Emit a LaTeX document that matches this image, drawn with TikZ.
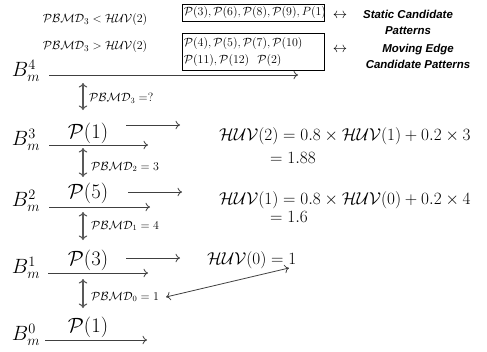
\documentclass[tikz,border=0pt]{standalone}
\usepackage{fontspec}
\usepackage{amsmath}
\usetikzlibrary{arrows.meta}
\newfontfamily\hvfont{Liberation Sans}
\newcommand{\pbmd}{\mathcal{PBMD}}
\newcommand{\huv}{\mathcal{HUV}}
\newcommand{\cp}[1]{\mathcal{P}(#1)}
\begin{document}
\begin{tikzpicture}[x=1bp,y=-1bp,
  >={Computer Modern Rightarrow[length=4.5bp, width=8.5bp]},
  every node/.style={inner sep=0pt},
  line/.style={draw=black!75, line width=0.8bp},
  harrow/.style={line, ->},
  varrow/.style={draw=black!65, line width=1.1bp, <->},
  blabel/.style={font=\fontsize{20}{24}\selectfont},
  plabel/.style={font=\fontsize{21}{25}\selectfont},
  eqtext/.style={font=\fontsize{16}{19}\selectfont, anchor=west},
  smalltext/.style={font=\fontsize{12}{14}\selectfont, anchor=west},
  toptext/.style={font=\fontsize{12.5}{15}\selectfont},
  boxtext/.style={draw=black, line width=0.7bp, font=\fontsize{12}{17}\selectfont,
    align=left, text width=139bp, inner xsep=1.5bp, inner ysep=1.5bp, anchor=north west},
  sidetext/.style={font=\hvfont\bfseries\itshape\fontsize{11.5}{16}\selectfont, align=center},
  dblarrow/.style={font=\fontsize{15}{18}\selectfont}
]
\useasboundingbox (0,0) rectangle (487,351);

% conditions and candidate pattern boxes
\node[toptext] (c1) at (95,20) {$\pbmd_3 < \huv(2)$};
\node[toptext] (c2) at (95,47) {$\pbmd_3 > \huv(2)$};
\node[boxtext, minimum height=17bp] (box1) at (182,4)
  {$\cp{3},\cp{6},\cp{8},\cp{9},P(1)$};
\node[boxtext, minimum height=37bp] (box2) at (182,33)
  {$\cp{4},\cp{5},\cp{7},\cp{10}$\\$\cp{11},\cp{12}\ \ \cp{2}$};
\node[dblarrow] (lr1) at (340,16) {$\leftrightarrow$};
\node[dblarrow] (lr2) at (340,50) {$\leftrightarrow$};
\node[sidetext] (s1) at (408,22) {Static Candidate\\Patterns};
\node[sidetext] (s2) at (418,56) {Moving Edge\\Candidate Patterns};

% level labels
\node[blabel] (b4) at (26,71) {$B_m^4$};
\node[blabel] (b3) at (26,140) {$B_m^3$};
\node[blabel] (b2) at (26,201) {$B_m^2$};
\node[blabel] (b1) at (26,268) {$B_m^1$};
\node[blabel] (b0) at (26,335) {$B_m^0$};

% level lines
\coordinate (l4s) at (49,75);  \coordinate (l4e) at (298,75);
\coordinate (l3s) at (49,145); \coordinate (l3e) at (148,145);
\coordinate (l2s) at (49,207); \coordinate (l2e) at (150,207);
\coordinate (l1s) at (48,273); \coordinate (l1e) at (148,273);
\coordinate (l0s) at (45,340); \coordinate (l0e) at (147,340);
\draw[harrow] (l4s) -- (l4e);
\draw[harrow] (l3s) -- (l3e);
\draw[harrow] (l2s) -- (l2e);
\draw[harrow] (l1s) -- (l1e);
\draw[harrow] (l0s) -- (l0e);

% selected patterns
\node[plabel] (p3) at (88,133) {$\cp{1}$};
\node[plabel] (p2) at (88,193) {$\cp{5}$};
\node[plabel] (p1) at (88,260) {$\cp{3}$};
\node[plabel] (p0) at (88,327) {$\cp{1}$};

% vertical distance arrows
\coordinate (v3t) at (83,83);  \coordinate (v3b) at (83,110);
\coordinate (v2t) at (83,148); \coordinate (v2b) at (83,177);
\coordinate (v1t) at (83,212); \coordinate (v1b) at (83,240);
\coordinate (v0t) at (83,279); \coordinate (v0b) at (83,308);
\draw[varrow] (v3t) -- (v3b);
\draw[varrow] (v2t) -- (v2b);
\draw[varrow] (v1t) -- (v1b);
\draw[varrow] (v0t) -- (v0b);
\node[smalltext] (d3) at (89,98) {$\pbmd_3 =?$};
\node[smalltext] (d2) at (91,167) {$\pbmd_2 = 3$};
\node[smalltext] (d1) at (91,226) {$\pbmd_1 = 4$};
\node[smalltext] (d0) at (91,297) {$\pbmd_0 = 1$};

% update equations
\coordinate (a3s) at (126,125); \coordinate (a3e) at (180,125);
\coordinate (a2s) at (128,192); \coordinate (a2e) at (182,192);
\coordinate (a1s) at (126,258); \coordinate (a1e) at (180,258);
\draw[harrow] (a3s) -- (a3e);
\draw[harrow] (a2s) -- (a2e);
\draw[harrow] (a1s) -- (a1e);
\node[eqtext] (e2) at (219,136) {$\huv(2) = 0.8 \times \huv(1) + 0.2 \times 3$};
\node[eqtext] (e2b) at (270,158) {$= 1.88$};
\node[eqtext] (e1) at (219,200) {$\huv(1) = 0.8 \times \huv(0) + 0.2 \times 4$};
\node[eqtext] (e1b) at (270,217) {$= 1.6$};
\node[eqtext] (e0) at (207,260) {$\huv(0) = 1$};

% link between initial value and first distance
\coordinate (k0) at (166,297); \coordinate (k1) at (289,268);
\draw[line, <->] (k0) -- (k1);
\end{tikzpicture}
\end{document}
